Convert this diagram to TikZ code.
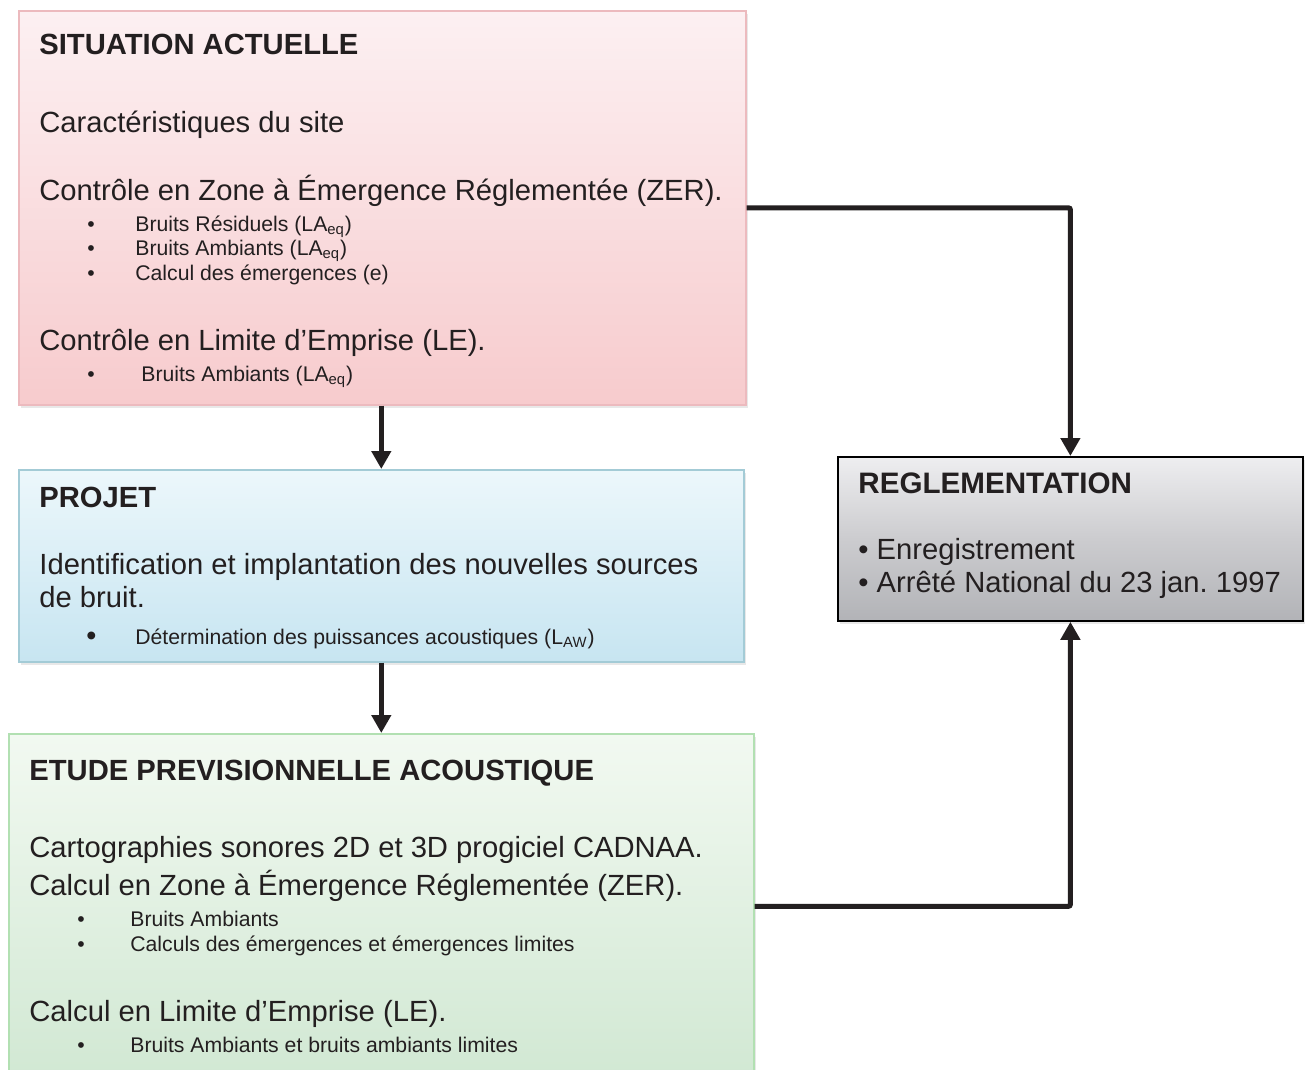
\documentclass[tikz,border=0pt]{standalone}
\usepackage{fontspec}
\setmainfont{Liberation Sans}
\usetikzlibrary{arrows.meta,shadows}
\frenchspacing

\definecolor{ink}{RGB}{35,31,32}
\definecolor{sittop}{RGB}{252,240,242}
\definecolor{sitbot}{RGB}{247,203,205}
\definecolor{sitline}{RGB}{236,186,190}
\definecolor{projtop}{RGB}{236,247,251}
\definecolor{projbot}{RGB}{199,229,241}
\definecolor{projline}{RGB}{163,203,214}
\definecolor{etutop}{RGB}{242,249,241}
\definecolor{etubot}{RGB}{209,232,211}
\definecolor{etuline}{RGB}{178,224,178}
\definecolor{regtop}{RGB}{238,238,240}
\definecolor{regmid}{RGB}{204,204,207}
\definecolor{regbot}{RGB}{178,179,183}

\newcommand\itm{\makebox[24pt][l]{\textbullet}}

\tikzstyle{panel}=[rectangle, inner sep=0, anchor=north west,
	drop shadow={opacity=0.18, shadow xshift=1.2pt, shadow yshift=-1.5pt}]
\tikzstyle{sitbox}=[panel, draw=sitline, line width=0.8pt, top color=sittop, bottom color=sitbot]
\tikzstyle{projbox}=[panel, draw=projline, line width=0.8pt, top color=projtop, bottom color=projbot]
\tikzstyle{etudebox}=[panel, draw=etuline, line width=0.8pt, top color=etutop, bottom color=etubot]
\tikzstyle{regbox}=[panel, draw=black, line width=0.9pt, top color=regtop, bottom color=regbot, middle color=regmid]
\tikzstyle{txt}=[anchor=base west, inner sep=0, text=ink]
\tikzstyle{head}=[txt, font=\bfseries\fontsize{14.6}{17}\selectfont]
\tikzstyle{body}=[txt, font=\fontsize{14.6}{17}\selectfont]
\tikzstyle{item}=[txt, font=\fontsize{10.6}{13}\selectfont]
\tikzstyle{flow}=[line width=2.5pt, draw=ink, rounded corners=1pt,
	-{Triangle[width=9.5pt, length=9pt]}]

\begin{document}
\begin{tikzpicture}[x=0.5pt, y=-0.5pt]
	\useasboundingbox (0,0) rectangle (1307,1070);

	% the four panels
	\node[sitbox, minimum width=363.5pt, minimum height=197pt] (sit) at (18,10) {};
	\node[projbox, minimum width=362.5pt, minimum height=96pt] (proj) at (18,469) {};
	\node[etudebox, minimum width=372.5pt, minimum height=172.5pt] (etude) at (8,733) {};
	\node[regbox, minimum width=232.5pt, minimum height=82pt] (reg) at (837,456) {};

	% situation actuelle
	\node[head] (sitT) at (39,55) {SITUATION ACTUELLE};
	\node[body] (sitA) at (39,133) {Caractéristiques du site};
	\node[body] (sitB) at (39,200) {Contrôle en Zone à Émergence Réglementée (ZER).};
	\node[item] (sitB1) at (87,231) {\itm Bruits Résiduels (LA\textsubscript{eq})};
	\node[item] (sitB2) at (87,255) {\itm Bruits Ambiants (LA\textsubscript{eq})};
	\node[item] (sitB3) at (87,280) {\itm Calcul des émergences (e)};
	\node[body] (sitC) at (39,350) {Contrôle en Limite d’Emprise (LE).};
	\node[item] (sitC1) at (87,381) {\makebox[27pt][l]{\textbullet}Bruits Ambiants (LA\textsubscript{eq})};

	% projet
	\node[head] (projT) at (39,507) {PROJET};
	\node[body] (projA) at (39,574) {Identification et implantation des nouvelles sources};
	\node[body] (projB) at (39,607) {de bruit.};
	\node[item] (projA1) at (86,644) {\makebox[24.5pt][l]{\raisebox{-0.5pt}{\Large\textbullet}}Détermination des puissances acoustiques (L\textsubscript{AW})};

	% etude previsionnelle
	\node[head] (etuT) at (29,780) {ETUDE PREVISIONNELLE ACOUSTIQUE};
	\node[body] (etuA) at (29,857) {Cartographies sonores 2D et 3D progiciel CADNAA.};
	\node[body] (etuB) at (29,895) {Calcul en Zone à Émergence Réglementée (ZER).};
	\node[item] (etuB1) at (77,926) {\makebox[26.5pt][l]{\textbullet}Bruits Ambiants};
	\node[item] (etuB2) at (77,951) {\makebox[26.5pt][l]{\textbullet}Calculs des émergences et émergences limites};
	\node[body] (etuC) at (29,1021) {Calcul en Limite d’Emprise (LE).};
	\node[item] (etuC1) at (77,1052) {\makebox[26.5pt][l]{\textbullet}Bruits Ambiants et bruits ambiants limites};

	% reglementation
	\node[head, font=\bfseries\fontsize{14.8}{17}\selectfont] (regT) at (858,493) {REGLEMENTATION};
	\node[body] (regA) at (858,559) {\textbullet{} Enregistrement};
	\node[body] (regB) at (858,592) {\textbullet{} Arrêté National du 23 jan. 1997};

	% connectors
	\draw[flow] (proj.north |- sit.south) -- (proj.north);
	\draw[flow] (proj.south) -- (etude.north);
	\draw[flow] (sit.east) -| (reg.north);
	\draw[flow] (etude.east) -| (reg.south);
\end{tikzpicture}
\end{document}
